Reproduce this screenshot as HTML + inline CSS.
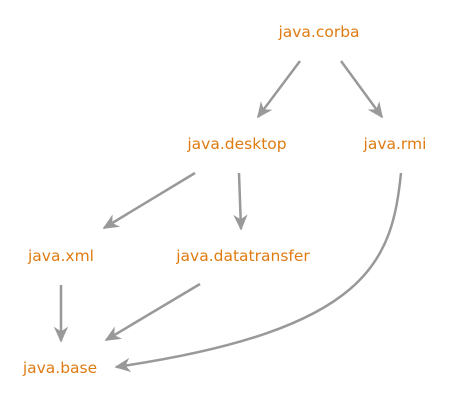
<!DOCTYPE html>
<html><head><meta charset="utf-8"><style>
html,body{margin:0;padding:0;background:#fff;}
svg{display:block;}
text{font-family:"DejaVu Sans","Liberation Sans",sans-serif;font-size:15.5px;fill:#e07b12;text-anchor:middle;}
</style></head><body>
<svg width="458" height="401" viewBox="0 0 458 401">
<defs>
<marker id="a" markerWidth="16" markerHeight="16" refX="9" refY="5" orient="auto" markerUnits="userSpaceOnUse" viewBox="0 0 10 10">
<path d="M0,0.5 L10,5 L0,9.5 L3,5 z" fill="#999"/>
</marker>
</defs>
<g stroke="#999" stroke-width="2.5" fill="none" marker-end="url(#a)">
<line x1="300" y1="61" x2="258" y2="117"/>
<line x1="341" y1="61" x2="382" y2="117"/>
<line x1="195" y1="173" x2="104" y2="228"/>
<line x1="239" y1="173" x2="241" y2="229"/>
<line x1="61" y1="285" x2="61" y2="341"/>
<line x1="200" y1="284" x2="106" y2="340"/>
<path d="M401,173 C392,260 370,330 116,367"/>
</g>
<text x="319" y="37">java.corba</text>
<text x="237" y="149">java.desktop</text>
<text x="395" y="149">java.rmi</text>
<text x="61" y="261">java.xml</text>
<text x="243" y="261">java.datatransfer</text>
<text x="60" y="373">java.base</text>
</svg>
</body></html>
